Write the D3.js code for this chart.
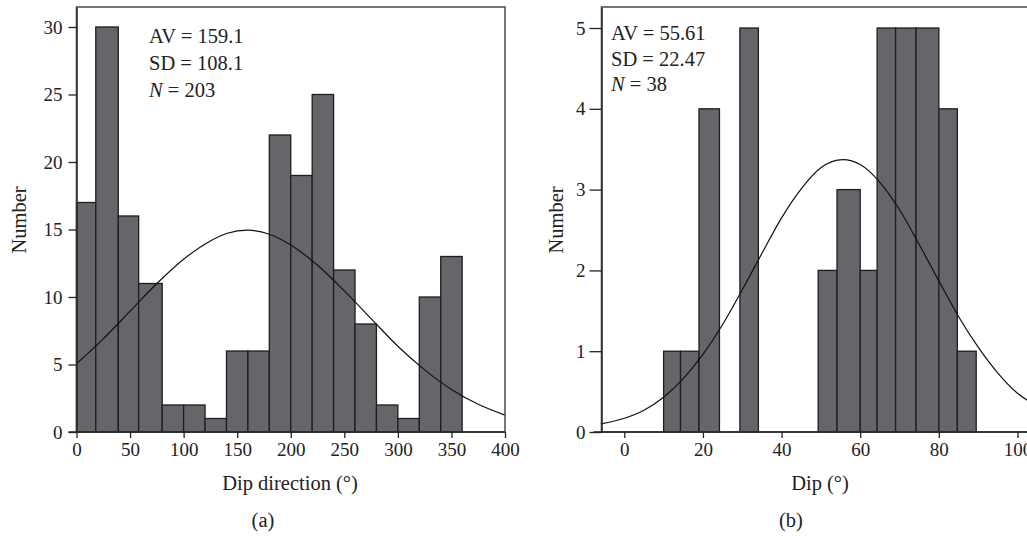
<!doctype html>
<html>
<head>
<script src="https://cdnjs.cloudflare.com/ajax/libs/d3/7.8.5/d3.min.js"></script>
<style>
  body { margin: 0; background: #fff; }
  text { font-family: "Liberation Serif", "DejaVu Serif", serif; fill: #222; }
</style>
</head>
<body>
<svg id="chart" width="1027" height="536"></svg>
<script>
// (a) dip direction histogram
dirEdges = [0, 18, 39, 58, 80, 100, 120, 140, 160, 180, 200, 220, 240, 260, 280, 300, 320, 340, 360]
dirCounts = [17, 30, 16, 11, 2, 2, 1, 6, 6, 22, 19, 25, 12, 8, 2, 1, 10, 13]
dirCurveX = [0, 25, 50, 75, 100, 125, 140, 160, 180, 200, 225, 250, 275, 300, 325, 350, 375, 400]
dirCurveY = [5.05, 6.9, 8.95, 11.0, 12.8, 14.15, 14.7, 14.95, 14.65, 13.85, 12.35, 10.45, 8.4, 6.35, 4.6, 3.15, 2.05, 1.25]
dirTicksX = [0, 50, 100, 150, 200, 250, 300, 350, 400]
dirTicksY = [0, 5, 10, 15, 20, 25, 30]
dirStats = ["AV = 159.1", "SD = 108.1", "203"]

// (b) dip histogram
dipBins = [[10, 14.3], [14.3, 19], [19, 24.2], [29.4, 34.1], [49.3, 54.1], [54.1, 60], [60, 64.3],
           [64.3, 69], [69, 74.2], [74.2, 80], [80, 84.7], [84.7, 89.5]]
dipCounts = [1, 1, 4, 5, 2, 3, 2, 5, 5, 5, 4, 1]
dipCurveX = [-6, 0, 5, 10, 15, 20, 25, 30, 35, 40, 45, 50, 55.6, 60, 65, 70, 75, 80, 85, 90, 95, 100, 105]
dipCurveY = [0.1, 0.17, 0.27, 0.43, 0.66, 0.96, 1.33, 1.76, 2.21, 2.65, 3.01, 3.27, 3.37, 3.31, 3.09,
             2.75, 2.32, 1.87, 1.43, 1.05, 0.73, 0.48, 0.32]
dipTicksX = [0, 20, 40, 60, 80, 100]
dipTicksY = [0, 1, 2, 3, 4, 5]
dipStats = ["AV = 55.61", "SD = 22.47", "38"]

svg = d3.select("#chart")
barFill = "#65666a"
tickFont = 19
textFont = 20.5

function panel(opt) {
    var x = d3.scaleLinear().domain(opt.xDomain).range(opt.xRange)
    var y = d3.scaleLinear().domain(opt.yDomain).range([432, 7])
    var g = svg.append("g")

    // bars
    g.selectAll("rect.bar")
        .data(opt.bins)
        .enter()
        .append("rect")
        .attr("class", "bar")
        .attr("x", d => x(d[0]))
        .attr("width", d => x(d[1]) - x(d[0]))
        .attr("y", (d, i) => y(opt.counts[i]))
        .attr("height", (d, i) => y(0) - y(opt.counts[i]))
        .style("fill", barFill)
        .style("stroke", "#1e1e1e")
        .style("stroke-width", 1.3)

    // fitted curve
    var line = d3.line()
        .x(d => x(d[0]))
        .y(d => y(d[1]))
        .curve(d3.curveMonotoneX)
    g.append("path")
        .datum(opt.curveX.map((v, i) => [v, opt.curveY[i]]))
        .attr("d", line)
        .style("fill", "none")
        .style("stroke", "#111")
        .style("stroke-width", 1.2)

    // frame
    g.append("rect")
        .attr("x", opt.xRange[0])
        .attr("y", 7)
        .attr("width", opt.xRange[1] - opt.xRange[0])
        .attr("height", 425)
        .style("fill", "none")
        .style("stroke", "#555")
        .style("stroke-width", 1.6)

    var ax = g.append("g")
        .attr("transform", "translate(0,432)")
        .call(d3.axisBottom(x).tickValues(opt.ticksX).tickFormat(d3.format("d"))
            .tickSize(6).tickPadding(5).tickSizeOuter(0))
    var ay = g.append("g")
        .attr("transform", "translate(" + opt.xRange[0] + ",0)")
        .call(d3.axisLeft(y).tickValues(opt.ticksY).tickFormat(d3.format("d"))
            .tickSize(opt.yTick).tickPadding(opt.yPad).tickSizeOuter(0))
    ;[ax, ay].forEach(a => {
        a.select(".domain").style("stroke", "#222").style("stroke-width", 1.4)
        a.selectAll(".tick line").style("stroke", "#222").style("stroke-width", 1.3)
        a.selectAll(".tick text").style("font-size", tickFont + "px")
            .style("font-family", "Liberation Serif").style("fill", "#222")
    })
    ax.select(".domain").attr("d", "M" + (opt.xRange[0] - 8) + ",0H" + opt.xRange[1])

    // stats box
    var st = g.append("g").style("font-size", textFont + "px")
    opt.stats.forEach((s, i) => {
        var t = st.append("text")
            .attr("x", opt.statX)
            .attr("y", opt.statY[i])
        if (i == 2) {
            t.append("tspan").style("font-style", "italic").text("N")
            t.append("tspan").text(" = " + s)
        } else {
            t.text(s)
        }
    })

    g.append("text")
        .attr("x", opt.titleX)
        .attr("y", 490)
        .attr("text-anchor", "middle")
        .style("font-size", textFont + "px")
        .text(opt.title)

    g.append("text")
        .attr("transform", "translate(" + opt.numX + ",220) rotate(-90)")
        .attr("text-anchor", "middle")
        .style("font-size", textFont + "px")
        .text("Number")

    g.append("text")
        .attr("x", opt.labX)
        .attr("y", 527)
        .attr("text-anchor", "middle")
        .style("font-size", textFont + "px")
        .text(opt.label)
}

panel({
    xDomain: [0, 400], xRange: [76.5, 505], yDomain: [0, 31.48],
    bins: dirCounts.map((c, i) => [dirEdges[i], dirEdges[i + 1]]), counts: dirCounts,
    curveX: dirCurveX, curveY: dirCurveY, ticksX: dirTicksX, ticksY: dirTicksY,
    yTick: 8, yPad: 6,
    stats: dirStats, statX: 149, statY: [43, 70, 97],
    title: "Dip direction (°)", titleX: 290, numX: 26, label: "(a)", labX: 263
})

panel({
    xDomain: [-5.8, 105.6], xRange: [601.5, 1039.5], yDomain: [0, 5.26],
    bins: dipBins, counts: dipCounts,
    curveX: dipCurveX, curveY: dipCurveY, ticksX: dipTicksX, ticksY: dipTicksY,
    yTick: 12, yPad: 4,
    stats: dipStats, statX: 611, statY: [40, 66, 91],
    title: "Dip (°)", titleX: 820, numX: 563, label: "(b)", labX: 791
})
</script>
</body>
</html>
